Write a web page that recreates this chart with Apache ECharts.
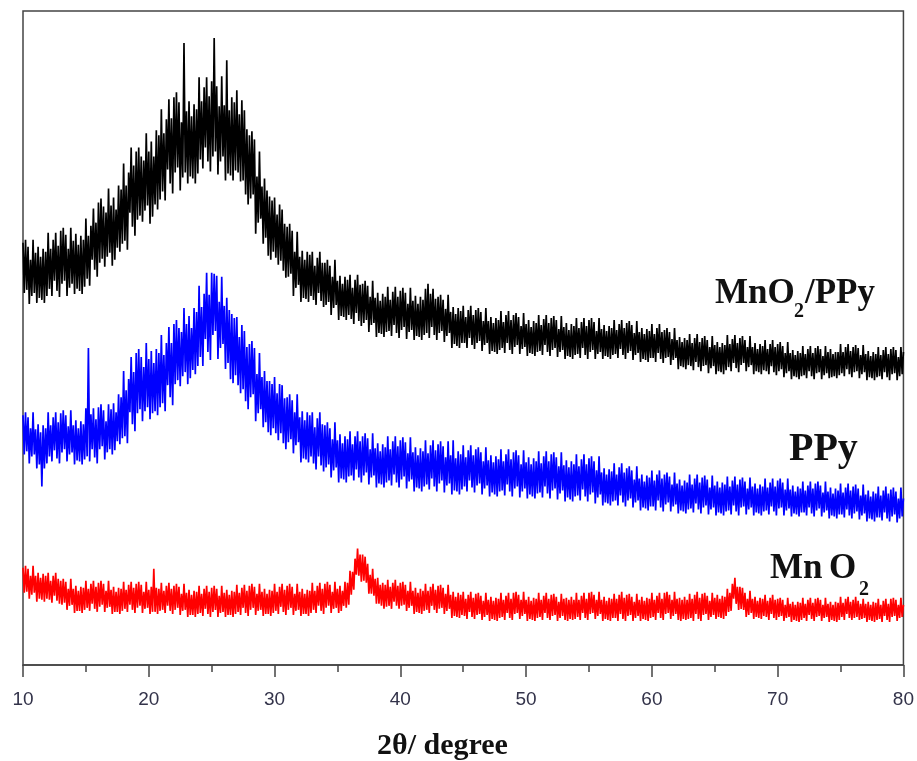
<!DOCTYPE html>
<html>
<head>
<meta charset="utf-8">
<script src="https://cdn.jsdelivr.net/npm/echarts@6/dist/echarts.min.js"></script>
<style>
  html, body { margin: 0; padding: 0; background: #fff; }
  #chart { width: 917px; height: 761px; }
</style>
</head>
<body>
<div id="chart"></div>
<script>
// 2θ grid of the scans: 10° to 80°, one point every 0.1°
const thetaStart = 10
const thetaStep = 0.1
const xTicks = [10, 20, 30, 40, 50, 60, 70, 80]

// intensities (a.u.), one row per degree
const mnoPpy = [
  421, 371, 424, 374, 417, 360, 404, 368, 424, 371,
  411, 361, 417, 366, 407, 364, 415, 361, 412, 368,
  431, 375, 415, 368, 424, 383, 431, 373, 418, 367,
  433, 380, 436, 383, 429, 368, 415, 376, 436, 380,
  423, 370, 430, 375, 419, 373, 428, 370, 424, 377,
  445, 385, 428, 378, 438, 404, 455, 394, 441, 387,
  461, 401, 465, 405, 457, 397, 451, 407, 475, 411,
  458, 398, 466, 404, 454, 416, 478, 412, 474, 420,
  500, 423, 478, 414, 491, 451, 516, 437, 498, 428,
  512, 444, 516, 448, 507, 442, 503, 453, 530, 458,
  512, 440, 522, 447, 507, 459, 533, 454, 528, 464,
  554, 472, 530, 463, 544, 494, 564, 480, 545, 470,
  566, 491, 571, 496, 561, 473, 541, 486, 620, 491,
  552, 480, 562, 487, 547, 485, 559, 480, 554, 490,
  586, 504, 562, 495, 576, 516, 586, 502, 567, 492,
  582, 507, 625, 512, 577, 489, 557, 502, 587, 507,
  558, 483, 603, 490, 553, 488, 566, 483, 561, 493,
  573, 491, 549, 482, 563, 483, 553, 469, 534, 459,
  528, 465, 532, 469, 524, 430, 487, 441, 512, 445,
  477, 420, 485, 426, 473, 408, 467, 404, 463, 412,
  466, 406, 449, 399, 459, 403, 454, 393, 440, 386,
  437, 387, 440, 390, 433, 368, 412, 376, 432, 379,
  407, 362, 413, 366, 404, 365, 412, 362, 409, 368,
  412, 364, 398, 359, 406, 371, 412, 363, 401, 357,
  401, 359, 404, 362, 398, 349, 387, 356, 404, 359,
  383, 344, 388, 348, 380, 347, 387, 344, 384, 349,
  389, 345, 376, 340, 384, 351, 389, 343, 379, 338,
  380, 341, 383, 344, 378, 332, 367, 339, 383, 341,
  366, 327, 371, 331, 363, 330, 370, 327, 367, 332,
  377, 333, 364, 328, 372, 339, 377, 331, 367, 326,
  373, 334, 376, 337, 371, 325, 360, 332, 376, 334,
  363, 324, 368, 328, 360, 327, 367, 324, 364, 329,
  375, 331, 380, 326, 370, 337, 375, 329, 365, 324,
  367, 331, 369, 333, 364, 322, 355, 328, 369, 331,
  352, 316, 357, 320, 350, 318, 356, 316, 353, 321,
  358, 321, 347, 316, 354, 326, 358, 319, 349, 315,
  354, 321, 356, 323, 352, 313, 343, 319, 356, 321,
  343, 310, 347, 313, 341, 312, 346, 310, 344, 314,
  353, 316, 342, 311, 349, 321, 353, 314, 344, 310,
  349, 317, 351, 319, 347, 310, 338, 315, 351, 317,
  340, 308, 344, 311, 337, 310, 343, 308, 341, 312,
  349, 313, 339, 309, 345, 319, 349, 312, 341, 308,
  346, 314, 348, 316, 344, 307, 335, 312, 348, 314,
  337, 305, 341, 308, 334, 307, 340, 305, 338, 309,
  346, 310, 336, 306, 342, 316, 346, 309, 338, 305,
  344, 312, 346, 314, 342, 305, 333, 310, 346, 312,
  335, 305, 339, 308, 333, 307, 338, 305, 336, 309,
  344, 310, 334, 306, 340, 315, 344, 309, 336, 305,
  341, 311, 343, 313, 339, 304, 331, 309, 343, 311,
  332, 302, 336, 305, 330, 304, 335, 302, 333, 306,
  340, 306, 330, 302, 336, 311, 340, 305, 332, 301,
  334, 306, 336, 307, 332, 299, 325, 304, 336, 306,
  324, 295, 327, 298, 322, 297, 326, 295, 324, 299,
  330, 298, 321, 294, 326, 302, 330, 297, 322, 293,
  326, 298, 328, 299, 324, 291, 317, 296, 328, 298,
  319, 290, 322, 293, 317, 292, 321, 290, 319, 294,
  329, 297, 320, 293, 325, 301, 329, 296, 321, 292,
  326, 299, 328, 301, 324, 293, 317, 297, 328, 299,
  317, 290, 321, 293, 315, 292, 320, 290, 318, 294,
  324, 293, 315, 290, 320, 298, 324, 292, 317, 289,
  320, 293, 322, 295, 318, 287, 311, 291, 322, 293,
  311, 285, 314, 288, 309, 287, 313, 285, 311, 288,
  318, 289, 310, 286, 315, 293, 318, 288, 311, 285,
  316, 291, 318, 292, 315, 285, 308, 289, 318, 291,
  312, 286, 315, 287, 310, 288, 312, 286, 312, 289,
  320, 291, 312, 288, 317, 295, 320, 290, 313, 287,
  317, 292, 319, 293, 316, 286, 309, 290, 319, 292,
  310, 284, 313, 287, 308, 286, 312, 284, 310, 287,
  317, 288, 309, 285, 314, 292, 317, 287, 310, 284,
  315, 290, 317, 291, 314, 284, 307, 288, 317, 290,
  312
]
const ppy = [
  249, 210, 252, 213, 247, 201, 236, 208, 252, 210,
  235, 196, 240, 200, 232, 178, 239, 196, 236, 201,
  252, 208, 239, 203, 247, 214, 252, 206, 242, 201,
  251, 212, 254, 215, 249, 203, 238, 210, 254, 212,
  239, 200, 244, 204, 236, 203, 243, 200, 240, 205,
  256, 208, 316, 203, 250, 215, 256, 207, 245, 201,
  257, 215, 260, 218, 254, 205, 243, 212, 260, 215,
  255, 210, 261, 214, 252, 223, 270, 220, 267, 226,
  293, 228, 274, 221, 285, 252, 307, 240, 292, 233,
  311, 251, 315, 255, 307, 243, 297, 253, 321, 257,
  305, 245, 313, 251, 301, 253, 315, 249, 311, 257,
  329, 261, 309, 253, 321, 279, 337, 267, 321, 259,
  340, 280, 344, 284, 336, 278, 332, 288, 356, 292,
  340, 280, 348, 286, 336, 294, 356, 290, 352, 298,
  378, 307, 357, 298, 370, 325, 391, 312, 369, 304,
  391, 329, 390, 333, 388, 305, 362, 316, 387, 320,
  358, 295, 366, 301, 354, 285, 350, 281, 346, 289,
  347, 279, 327, 271, 339, 275, 333, 263, 317, 255,
  320, 267, 323, 270, 316, 243, 290, 251, 311, 255,
  287, 237, 293, 242, 283, 232, 283, 229, 280, 236,
  287, 231, 271, 224, 280, 231, 279, 221, 266, 215,
  267, 222, 270, 225, 264, 211, 252, 219, 270, 222,
  247, 202, 253, 206, 244, 205, 252, 202, 249, 208,
  252, 201, 237, 195, 246, 208, 252, 199, 240, 193,
  239, 197, 242, 200, 236, 187, 225, 194, 242, 197,
  224, 182, 230, 186, 221, 185, 228, 182, 225, 188,
  233, 189, 220, 184, 228, 195, 233, 187, 223, 182,
  228, 189, 231, 192, 226, 180, 215, 187, 231, 189,
  216, 177, 221, 181, 213, 180, 220, 177, 217, 182,
  228, 184, 215, 179, 223, 190, 228, 182, 218, 177,
  224, 185, 227, 188, 222, 176, 211, 183, 227, 185,
  212, 173, 217, 177, 209, 176, 216, 173, 213, 178,
  224, 180, 211, 175, 219, 186, 224, 178, 214, 173,
  220, 181, 223, 184, 218, 172, 207, 179, 223, 181,
  209, 170, 224, 174, 206, 173, 213, 170, 210, 175,
  219, 178, 207, 173, 214, 184, 219, 177, 209, 172,
  215, 179, 217, 181, 212, 170, 203, 176, 217, 179,
  204, 168, 209, 172, 202, 170, 208, 168, 205, 173,
  215, 174, 203, 169, 210, 180, 215, 173, 205, 168,
  212, 176, 214, 178, 209, 167, 200, 173, 214, 176,
  202, 166, 207, 170, 200, 168, 206, 166, 203, 171,
  213, 172, 201, 167, 208, 178, 213, 171, 203, 166,
  210, 174, 212, 176, 207, 165, 198, 171, 212, 174,
  199, 163, 204, 167, 197, 165, 203, 163, 200, 168,
  210, 169, 198, 164, 205, 175, 210, 168, 200, 163,
  206, 170, 208, 172, 203, 161, 194, 167, 208, 170,
  192, 159, 196, 162, 190, 161, 195, 159, 193, 163,
  201, 164, 190, 159, 197, 169, 201, 162, 192, 158,
  196, 164, 198, 166, 194, 157, 185, 162, 198, 164,
  186, 154, 190, 157, 183, 156, 189, 154, 187, 158,
  194, 158, 184, 154, 190, 164, 194, 157, 186, 153,
  190, 160, 192, 162, 188, 153, 180, 158, 192, 160,
  181, 151, 185, 154, 179, 153, 184, 151, 182, 155,
  190, 156, 180, 152, 186, 161, 190, 155, 182, 151,
  187, 157, 189, 159, 185, 150, 177, 155, 189, 157,
  179, 149, 183, 152, 177, 151, 182, 149, 180, 153,
  188, 154, 178, 150, 184, 159, 188, 153, 180, 149,
  185, 157, 187, 158, 183, 150, 176, 155, 187, 157,
  178, 149, 181, 152, 176, 151, 180, 149, 178, 153,
  186, 154, 177, 150, 182, 158, 186, 153, 178, 149,
  184, 156, 186, 157, 182, 149, 175, 154, 186, 156,
  175, 148, 179, 151, 173, 150, 178, 148, 176, 152,
  183, 152, 174, 149, 179, 157, 183, 151, 176, 148,
  181, 154, 183, 156, 179, 148, 172, 152, 183, 154,
  173, 146, 177, 149, 171, 148, 176, 146, 174, 150,
  181, 150, 172, 147, 177, 155, 181, 149, 174, 146,
  178, 151, 180, 153, 176, 145, 169, 149, 180, 151,
  170, 143, 174, 146, 168, 145, 173, 143, 171, 147,
  178, 147, 169, 144, 174, 152, 178, 146, 171, 143,
  175, 148, 177, 150, 173, 142, 166, 146, 177, 148,
  166
]
const mno2 = [
  97, 72, 99, 73, 96, 66, 89, 70, 99, 72,
  89, 63, 92, 66, 87, 65, 91, 63, 89, 66,
  92, 65, 84, 62, 89, 69, 92, 64, 86, 61,
  84, 60, 86, 62, 83, 55, 76, 59, 86, 60,
  76, 52, 79, 54, 74, 54, 78, 52, 77, 55,
  84, 57, 76, 54, 81, 61, 84, 56, 78, 53,
  82, 58, 84, 60, 81, 53, 74, 57, 84, 58,
  75, 51, 78, 53, 73, 53, 77, 51, 76, 54,
  83, 56, 75, 53, 80, 60, 83, 55, 77, 52,
  81, 57, 83, 59, 80, 52, 73, 56, 83, 57,
  75, 51, 78, 53, 96, 53, 77, 51, 76, 54,
  82, 55, 74, 52, 79, 59, 82, 54, 76, 51,
  79, 55, 81, 57, 78, 50, 71, 54, 81, 55,
  72, 48, 75, 50, 70, 50, 74, 48, 73, 51,
  79, 52, 71, 49, 76, 56, 79, 51, 73, 48,
  77, 53, 79, 55, 76, 48, 69, 52, 79, 53,
  72, 48, 75, 50, 70, 50, 74, 48, 73, 51,
  80, 53, 72, 50, 77, 57, 80, 52, 74, 49,
  79, 55, 81, 57, 78, 50, 71, 54, 81, 55,
  73, 49, 76, 51, 71, 51, 75, 49, 74, 52,
  81, 54, 73, 51, 78, 58, 81, 53, 75, 50,
  79, 55, 81, 57, 78, 50, 71, 54, 81, 55,
  73, 49, 76, 51, 71, 51, 75, 49, 74, 52,
  82, 55, 74, 52, 79, 59, 82, 54, 76, 51,
  81, 57, 83, 59, 80, 52, 73, 56, 83, 57,
  76, 52, 79, 54, 74, 59, 83, 57, 82, 60,
  94, 70, 93, 75, 106, 90, 116, 89, 110, 83,
  110, 84, 108, 82, 101, 71, 90, 71, 96, 69,
  86, 61, 87, 61, 80, 59, 82, 56, 80, 58,
  85, 59, 78, 56, 82, 63, 85, 59, 79, 56,
  82, 59, 83, 60, 80, 54, 74, 57, 83, 59,
  74, 51, 77, 53, 72, 52, 76, 51, 74, 54,
  81, 55, 74, 52, 78, 59, 81, 55, 75, 52,
  79, 56, 80, 57, 77, 51, 71, 54, 80, 56,
  70, 47, 73, 49, 68, 48, 72, 47, 70, 50,
  73, 49, 66, 46, 70, 53, 73, 48, 67, 46,
  71, 50, 72, 51, 69, 45, 64, 48, 72, 50,
  65, 44, 68, 46, 64, 45, 67, 44, 66, 47,
  72, 48, 65, 45, 69, 52, 72, 47, 66, 45,
  72, 51, 73, 52, 70, 46, 65, 49, 73, 51,
  65, 44, 68, 46, 64, 45, 67, 44, 66, 47,
  72, 48, 65, 45, 69, 52, 72, 47, 66, 45,
  70, 49, 71, 50, 68, 44, 63, 47, 71, 49,
  66, 45, 67, 44, 65, 46, 68, 45, 65, 46,
  72, 48, 65, 45, 69, 52, 72, 47, 66, 45,
  72, 51, 73, 52, 70, 46, 65, 49, 73, 51,
  65, 44, 68, 46, 64, 45, 67, 44, 66, 47,
  71, 47, 66, 44, 70, 51, 73, 46, 67, 44,
  70, 49, 71, 50, 68, 44, 63, 47, 71, 49,
  65, 44, 68, 46, 64, 45, 67, 44, 66, 47,
  72, 48, 65, 45, 69, 52, 72, 47, 66, 45,
  72, 51, 73, 52, 70, 46, 65, 49, 73, 51,
  66, 45, 67, 44, 65, 46, 68, 45, 65, 46,
  71, 47, 66, 44, 70, 51, 73, 46, 67, 44,
  71, 50, 72, 51, 69, 45, 64, 48, 72, 50,
  67, 46, 70, 48, 66, 47, 69, 46, 68, 49,
  76, 53, 72, 54, 81, 66, 87, 61, 78, 55,
  78, 56, 77, 55, 72, 48, 66, 50, 74, 52,
  66, 46, 68, 48, 64, 47, 67, 46, 66, 49,
  70, 48, 64, 45, 67, 51, 70, 47, 65, 45,
  66, 48, 67, 49, 65, 44, 60, 47, 67, 48,
  61, 43, 63, 45, 60, 44, 63, 43, 62, 45,
  67, 47, 61, 44, 65, 50, 67, 46, 62, 44,
  66, 48, 67, 49, 65, 44, 60, 47, 67, 48,
  61, 43, 63, 45, 60, 44, 63, 43, 62, 45,
  68, 48, 62, 45, 66, 51, 68, 47, 63, 45,
  65, 47, 68, 48, 64, 45, 61, 46, 66, 47,
  61, 43, 63, 45, 60, 44, 63, 43, 62, 45,
  66, 46, 60, 43, 64, 49, 66, 45, 61, 43,
  66, 48, 67, 49, 65, 44, 60, 47, 67, 48,
  60
]

function withTheta (arr) {
  return arr.map((v, i) => [thetaStart + i * thetaStep, v])
}

const serifFont = '"Liberation Serif", "Times New Roman", serif'
const myChart = echarts.init(document.getElementById('chart'))

const option = {
  animation: false,
  backgroundColor: '#fff',
  grid: {
    left: 23,
    right: 13,
    top: 11,
    bottom: 96,
    show: true,
    borderColor: '#444',
    borderWidth: 1.5
  },
  xAxis: {
    type: 'value',
    min: xTicks[0],
    max: xTicks[xTicks.length - 1],
    interval: 10,
    axisLine: { show: true, lineStyle: { color: '#444', width: 1.5 } },
    axisTick: { show: true, length: 12, lineStyle: { color: '#444', width: 1.5 } },
    minorTick: { show: true, splitNumber: 2, length: 7, lineStyle: { color: '#444', width: 1.5 } },
    splitLine: { show: false },
    axisLabel: {
      margin: 25,
      fontSize: 19,
      color: '#33334a',
      fontFamily: '"Liberation Sans", Arial, sans-serif'
    }
  },
  yAxis: {
    type: 'value',
    min: 0,
    max: 652,
    axisLine: { show: false },
    axisTick: { show: false },
    axisLabel: { show: false },
    splitLine: { show: false }
  },
  series: [
    {
      name: 'MnO2/PPy',
      type: 'line',
      data: withTheta(mnoPpy),
      showSymbol: false,
      lineStyle: { color: '#000', width: 1.7 }
    },
    {
      name: 'PPy',
      type: 'line',
      data: withTheta(ppy),
      showSymbol: false,
      lineStyle: { color: '#0000ff', width: 1.7 }
    },
    {
      name: 'MnO2',
      type: 'line',
      data: withTheta(mno2),
      showSymbol: false,
      lineStyle: { color: '#ff0000', width: 1.7 }
    }
  ],
  graphic: [
    // x axis title
    { type: 'text', left: 377, top: 731, style: { text: '2θ/ degree', font: 'bold 30px ' + serifFont, fill: '#111' } },
    // curve labels
    { type: 'text', x: 715, y: 294, style: { text: 'MnO', font: 'bold 35px ' + serifFont, fill: '#111', textVerticalAlign: 'middle' } },
    { type: 'text', x: 794, y: 312, style: { text: '2', font: 'bold 20px ' + serifFont, fill: '#111', textVerticalAlign: 'middle' } },
    { type: 'text', x: 805, y: 294, style: { text: '/PPy', font: 'bold 35px ' + serifFont, fill: '#111', textVerticalAlign: 'middle' } },
    { type: 'text', x: 789, y: 450, style: { text: 'PPy', font: 'bold 40px ' + serifFont, fill: '#111', textVerticalAlign: 'middle' } },
    { type: 'text', x: 770, y: 569, style: { text: 'Mn', font: 'bold 35px ' + serifFont, fill: '#111', textVerticalAlign: 'middle' } },
    { type: 'text', x: 829, y: 569, style: { text: 'O', font: 'bold 35px ' + serifFont, fill: '#111', textVerticalAlign: 'middle' } },
    { type: 'text', x: 859, y: 590, style: { text: '2', font: 'bold 20px ' + serifFont, fill: '#111', textVerticalAlign: 'middle' } }
  ]
}

myChart.setOption(option)
</script>
</body>
</html>
